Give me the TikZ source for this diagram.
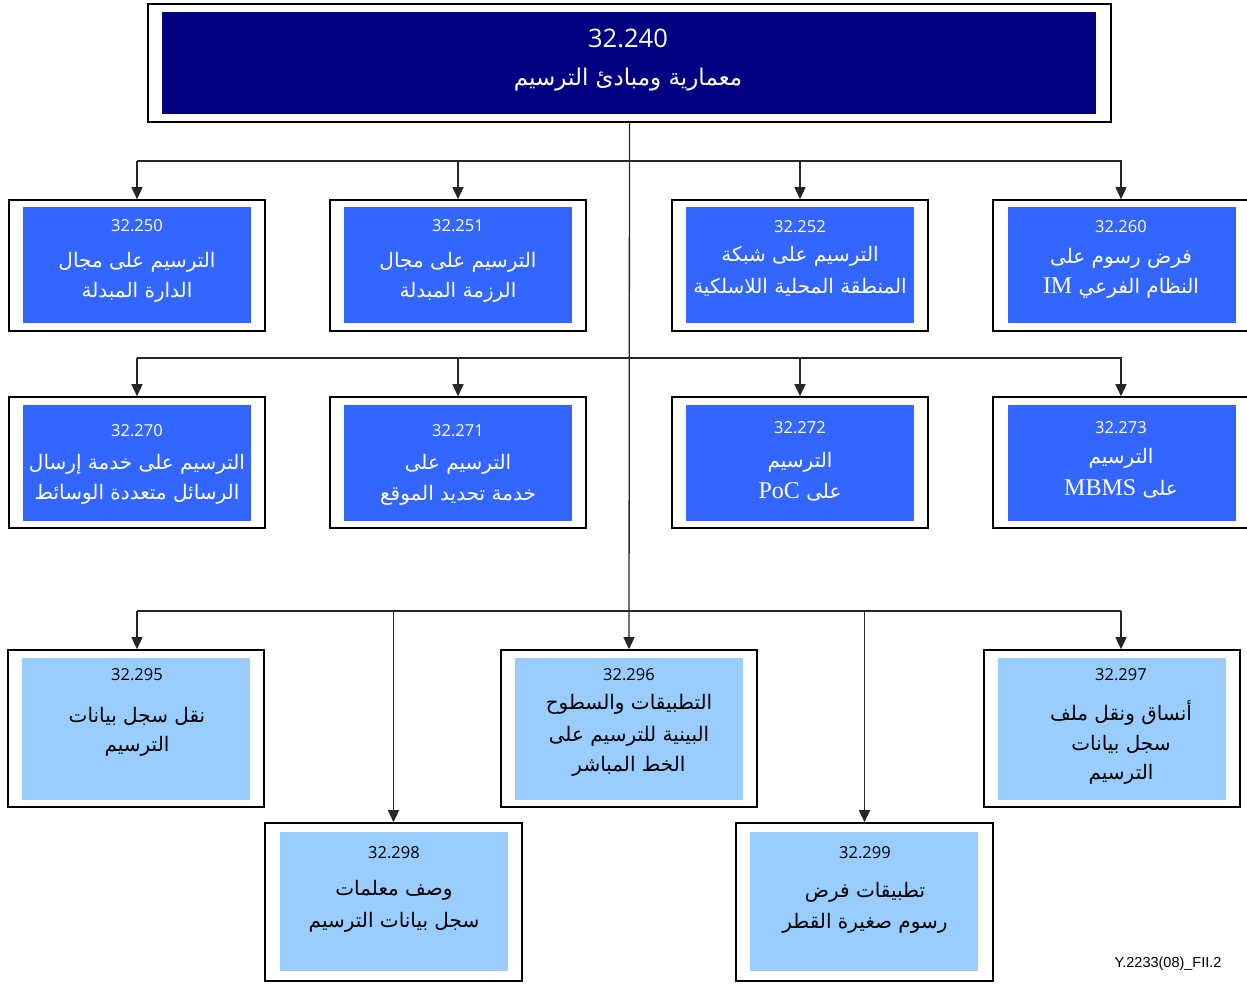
\documentclass[tikz,border=0pt]{standalone}
\usepackage{fontspec}
\usetikzlibrary{arrows.meta}
\TeXXeTstate=1
\newfontfamily\arabicfont[Script=Arabic]{DejaVu Sans}
\newfontfamily\numfont{Open Sans}
\newfontfamily\latinfont{Liberation Serif}
\newfontfamily\tagfont{Liberation Sans}
\newcommand\lat[1]{{\latinfont\fontsize{24}{26}\selectfont\beginL #1\endL}}
\definecolor{navy}{HTML}{000080}
\definecolor{midblue}{HTML}{3366FF}
\definecolor{lightblue}{HTML}{99CCFF}
\tikzset{
 outerbox/.style={draw=black, line width=1.6pt, fill=white, inner sep=0pt},
 link/.style={draw=black!85, line width=1.3pt},
 arr/.style={link, -{Triangle[width=11pt,length=12pt]}},
 num/.style={font=\numfont\fontsize{16.5}{19}\selectfont, inner sep=0pt},
 ar/.style={font=\arabicfont\fontsize{20}{24}\selectfont, inner sep=0pt},
 wt/.style={text=white},
 bk/.style={text=black},
}
\begin{document}
\begin{tikzpicture}[x=1pt,y=-1pt]
\useasboundingbox (0,0) rectangle (1247,983);
% top box
\node[outerbox, minimum width=963pt, minimum height=118pt] (top) at (629.5,63) {};
\fill[navy] (162,12) rectangle (1096,114);
\node[num, wt, font=\numfont\fontsize{25.5}{28}\selectfont] (topnum) at (628,38) {32.240};
\node[ar, wt, font=\arabicfont\fontsize{23}{27}\selectfont] (toptxt) at (628,80) {\beginR معمارية ومبادئ الترسيم\endR};

% row 1
\node[outerbox, minimum width=256pt, minimum height=131pt] (b250) at (137,265.5) {};
\node[outerbox, minimum width=256pt, minimum height=131pt] (b251) at (458,265.5) {};
\node[outerbox, minimum width=256pt, minimum height=131pt] (b252) at (800,265.5) {};
\node[outerbox, minimum width=257pt, minimum height=131pt] (b260) at (1121.5,265.5) {};
\fill[midblue] (23,207) rectangle (251,323);
\fill[midblue] (344,207) rectangle (572,323);
\fill[midblue] (686,207) rectangle (914,323);
\fill[midblue] (1008,207) rectangle (1236,323);
\node[num, wt] (n250) at (137,226) {32.250};
\node[ar, wt] (t250a) at (137,262) {\beginR الترسيم على مجال\endR};
\node[ar, wt] (t250b) at (137,292) {\beginR الدارة المبدلة\endR};
\node[num, wt] (n251) at (458,226) {32.251};
\node[ar, wt] (t251a) at (458,262) {\beginR الترسيم على مجال\endR};
\node[ar, wt] (t251b) at (458,292) {\beginR الرزمة المبدلة\endR};
\node[num, wt] (n252) at (800,227) {32.252};
\node[ar, wt] (t252a) at (800,256) {\beginR الترسيم على شبكة\endR};
\node[ar, wt] (t252b) at (800,287) {\beginR المنطقة المحلية اللاسلكية\endR};
\node[num, wt] (n260) at (1121,227) {32.260};
\node[ar, wt] (t260a) at (1121,258) {\beginR فرض رسوم على\endR};
\node[ar, wt] (t260b) at (1121,288) {\beginR النظام الفرعي \lat{IM}\endR};

% row 2
\node[outerbox, minimum width=256pt, minimum height=131pt] (b270) at (137,462.5) {};
\node[outerbox, minimum width=256pt, minimum height=131pt] (b271) at (458,462.5) {};
\node[outerbox, minimum width=256pt, minimum height=131pt] (b272) at (800,462.5) {};
\node[outerbox, minimum width=257pt, minimum height=131pt] (b273) at (1121.5,462.5) {};
\fill[midblue] (23,405) rectangle (251,521);
\fill[midblue] (344,405) rectangle (572,521);
\fill[midblue] (686,405) rectangle (914,521);
\fill[midblue] (1008,405) rectangle (1236,521);
\node[num, wt] (n270) at (137,431) {32.270};
\node[ar, wt] (t270a) at (137,464) {\beginR الترسيم على خدمة إرسال\endR};
\node[ar, wt] (t270b) at (137,494) {\beginR الرسائل متعددة الوسائط\endR};
\node[num, wt] (n271) at (458,431) {32.271};
\node[ar, wt] (t271a) at (458,464) {\beginR الترسيم على\endR};
\node[ar, wt] (t271b) at (458,495) {\beginR خدمة تحديد الموقع\endR};
\node[num, wt] (n272) at (800,428) {32.272};
\node[ar, wt] (t272a) at (800,462) {\beginR الترسيم\endR};
\node[ar, wt] (t272b) at (800,492) {\beginR على \lat{PoC}\endR};
\node[num, wt] (n273) at (1121,428) {32.273};
\node[ar, wt] (t273a) at (1121,458) {\beginR الترسيم\endR};
\node[ar, wt] (t273b) at (1121,489) {\beginR على \lat{MBMS}\endR};

% row 3
\node[outerbox, minimum width=256pt, minimum height=157pt] (b295) at (136,728.5) {};
\node[outerbox, minimum width=256pt, minimum height=157pt] (b296) at (629,728.5) {};
\node[outerbox, minimum width=256pt, minimum height=157pt] (b297) at (1112,728.5) {};
\fill[lightblue] (22,658) rectangle (250,800);
\fill[lightblue] (515,658) rectangle (743,800);
\fill[lightblue] (998,658) rectangle (1226,800);
\node[num, bk] (n295) at (137,675) {32.295};
\node[ar, bk] (t295a) at (137,716) {\beginR نقل سجل بيانات\endR};
\node[ar, bk] (t295b) at (137,746) {\beginR الترسيم\endR};
\node[num, bk] (n296) at (629,675) {32.296};
\node[ar, bk] (t296a) at (629,704) {\beginR التطبيقات والسطوح\endR};
\node[ar, bk] (t296b) at (629,736) {\beginR البينية للترسيم على\endR};
\node[ar, bk] (t296c) at (629,766) {\beginR الخط المباشر\endR};
\node[num, bk] (n297) at (1121,675) {32.297};
\node[ar, bk] (t297a) at (1121,713) {\beginR أنساق ونقل ملف\endR};
\node[ar, bk] (t297b) at (1121,744) {\beginR سجل بيانات\endR};
\node[ar, bk] (t297c) at (1121,774) {\beginR الترسيم\endR};

% row 4
\node[outerbox, minimum width=257pt, minimum height=158pt] (b298) at (393.5,902) {};
\node[outerbox, minimum width=257pt, minimum height=158pt] (b299) at (864.5,902) {};
\fill[lightblue] (280,832) rectangle (508,971);
\fill[lightblue] (750,832) rectangle (978,971);
\node[num, bk] (n298) at (394,853) {32.298};
\node[ar, bk] (t298a) at (394,890) {\beginR وصف معلمات\endR};
\node[ar, bk] (t298b) at (394,922) {\beginR سجل بيانات الترسيم\endR};
\node[num, bk] (n299) at (865,853) {32.299};
\node[ar, bk] (t299a) at (865,892) {\beginR تطبيقات فرض\endR};
\node[ar, bk] (t299b) at (865,923) {\beginR رسوم صغيرة القطر\endR};

% connectors
\coordinate (h1) at (629,161);
\coordinate (h2) at (629,358);
\coordinate (h3) at (629,611);
\draw[arr] (top.south) -- (b296.north);
\draw[link] (b250.north |- h1) -- (b260.north |- h1);
\draw[link] (b270.north |- h2) -- (b273.north |- h2);
\draw[link] (n295 |- h3) -- (n297 |- h3);
\draw[arr] (b250.north |- h1) -- (b250.north);
\draw[arr] (b251.north |- h1) -- (b251.north);
\draw[arr] (b252.north |- h1) -- (b252.north);
\draw[arr] (n260 |- h1) -- (n260 |- b260.north);
\draw[arr] (b270.north |- h2) -- (b270.north);
\draw[arr] (b271.north |- h2) -- (b271.north);
\draw[arr] (b272.north |- h2) -- (b272.north);
\draw[arr] (n273 |- h2) -- (n273 |- b273.north);
\draw[arr] (n295 |- h3) -- (n295 |- b295.north);
\draw[arr] (n297 |- h3) -- (n297 |- b297.north);
\draw[arr] (b298.north |- h3) -- (b298.north);
\draw[arr] (b299.north |- h3) -- (b299.north);

\node[font=\tagfont\fontsize{14.5}{17}\selectfont, inner sep=0pt] (tag) at (1168,964) {Y.2233(08)\_FII.2};
\end{tikzpicture}
\end{document}
